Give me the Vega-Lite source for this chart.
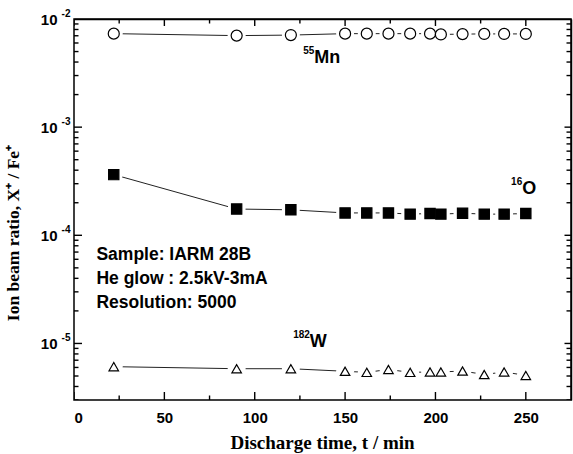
{
  "$schema": "https://vega.github.io/schema/vega-lite/v6.json",
  "width": 497,
  "height": 381,
  "autosize": "none",
  "padding": {"left": 74, "top": 19, "right": 2, "bottom": 54},
  "background": "white",
  "config": {
    "view": {"stroke": "black", "strokeWidth": 1.5},
    "axis": {
      "grid": false,
      "domain": false,
      "tickColor": "black",
      "tickOpacity": 0,
      "labelColor": "black",
      "titleColor": "black",
      "labelFont": "Liberation Sans",
      "labelFontWeight": "bold",
      "labelFontSize": 15,
      "titleFont": "Liberation Serif",
      "titleFontWeight": "bold",
      "titleFontSize": 19
    }
  },
  "datasets": {
    "pts": [
      {"species": "Mn", "t": 22, "ratio": 0.00732},
      {"species": "Mn", "t": 90, "ratio": 0.00702},
      {"species": "Mn", "t": 120, "ratio": 0.0071},
      {"species": "Mn", "t": 150, "ratio": 0.00732},
      {"species": "Mn", "t": 162, "ratio": 0.00732},
      {"species": "Mn", "t": 174, "ratio": 0.00732},
      {"species": "Mn", "t": 186, "ratio": 0.00732},
      {"species": "Mn", "t": 197, "ratio": 0.00732},
      {"species": "Mn", "t": 203, "ratio": 0.0072},
      {"species": "Mn", "t": 215, "ratio": 0.00725},
      {"species": "Mn", "t": 227, "ratio": 0.00728},
      {"species": "Mn", "t": 238, "ratio": 0.00728},
      {"species": "Mn", "t": 250, "ratio": 0.00728},
      {"species": "O", "t": 22, "ratio": 0.000364},
      {"species": "O", "t": 90, "ratio": 0.000175},
      {"species": "O", "t": 120, "ratio": 0.000172},
      {"species": "O", "t": 150, "ratio": 0.000161},
      {"species": "O", "t": 162, "ratio": 0.000161},
      {"species": "O", "t": 174, "ratio": 0.000161},
      {"species": "O", "t": 186, "ratio": 0.000157},
      {"species": "O", "t": 197, "ratio": 0.000159},
      {"species": "O", "t": 203, "ratio": 0.000157},
      {"species": "O", "t": 215, "ratio": 0.00016},
      {"species": "O", "t": 227, "ratio": 0.000157},
      {"species": "O", "t": 238, "ratio": 0.000157},
      {"species": "O", "t": 250, "ratio": 0.000159},
      {"species": "W", "t": 22, "ratio": 0.0000061},
      {"species": "W", "t": 90, "ratio": 0.00000584},
      {"species": "W", "t": 120, "ratio": 0.00000584},
      {"species": "W", "t": 150, "ratio": 0.00000553},
      {"species": "W", "t": 162, "ratio": 0.0000054},
      {"species": "W", "t": 174, "ratio": 0.00000575},
      {"species": "W", "t": 186, "ratio": 0.0000054},
      {"species": "W", "t": 197, "ratio": 0.00000545},
      {"species": "W", "t": 203, "ratio": 0.00000545},
      {"species": "W", "t": 215, "ratio": 0.00000556},
      {"species": "W", "t": 227, "ratio": 0.00000516},
      {"species": "W", "t": 238, "ratio": 0.00000545},
      {"species": "W", "t": 250, "ratio": 0.00000506}
    ],
    "ann": [
      {"x": 12.4, "y": 0.0000593, "text": "Sample: IARM 28B"},
      {"x": 12.4, "y": 0.0000356, "text": "He glow : 2.5kV-3mA"},
      {"x": 12.4, "y": 0.0000213, "text": "Resolution: 5000"}
    ],
    "labels": [
      {"x": 133, "y": 0.0039, "main": "Mn", "sup": "55"},
      {"x": 248, "y": 0.000241, "main": "O", "sup": "16"},
      {"x": 130.5, "y": 0.00000927, "main": "W", "sup": "182"}
    ],
    "ytitle": [
      {"x": -33.2, "y": 0.000105, "text": "Ion beam ratio, X⁺ / Fe⁺"}
    ],
    "xt": [
      {"v": 0, "major": 1}, {"v": 25, "major": 0}, {"v": 50, "major": 1}, {"v": 75, "major": 0},
      {"v": 100, "major": 1}, {"v": 125, "major": 0}, {"v": 150, "major": 1}, {"v": 175, "major": 0},
      {"v": 200, "major": 1}, {"v": 225, "major": 0}, {"v": 250, "major": 1}
    ],
    "yt": [
      {"v": 0.000003, "major": 0}, {"v": 0.000004, "major": 0}, {"v": 0.000005, "major": 0}, {"v": 0.000006, "major": 0}, {"v": 0.000007, "major": 0}, {"v": 0.000008, "major": 0}, {"v": 0.000009, "major": 0},
      {"v": 0.00001, "major": 1},
      {"v": 0.00002, "major": 0}, {"v": 0.00003, "major": 0}, {"v": 0.00004, "major": 0}, {"v": 0.00005, "major": 0}, {"v": 0.00006, "major": 0}, {"v": 0.00007, "major": 0}, {"v": 0.00008, "major": 0}, {"v": 0.00009, "major": 0},
      {"v": 0.0001, "major": 1},
      {"v": 0.0002, "major": 0}, {"v": 0.0003, "major": 0}, {"v": 0.0004, "major": 0}, {"v": 0.0005, "major": 0}, {"v": 0.0006, "major": 0}, {"v": 0.0007, "major": 0}, {"v": 0.0008, "major": 0}, {"v": 0.0009, "major": 0},
      {"v": 0.001, "major": 1},
      {"v": 0.002, "major": 0}, {"v": 0.003, "major": 0}, {"v": 0.004, "major": 0}, {"v": 0.005, "major": 0}, {"v": 0.006, "major": 0}, {"v": 0.007, "major": 0}, {"v": 0.008, "major": 0}, {"v": 0.009, "major": 0},
      {"v": 0.01, "major": 1}
    ]
  },
  "layer": [
    {
      "data": {"name": "pts"},
      "mark": {"type": "line", "color": "#222222", "strokeWidth": 1},
      "encoding": {
        "x": {
          "field": "t", "type": "quantitative",
          "scale": {"domain": [0, 275], "nice": false, "zero": false},
          "axis": {
            "orient": "bottom",
            "values": [0, 50, 100, 150, 200, 250],
            "tickSize": -8,
            "labelPadding": 18,
            "labelBaseline": "top",
            "title": "Discharge time, t / min",
            "titleX": 248,
            "titleY": 48,
            "titleAlign": "center",
            "titleBaseline": "alphabetic"
          }
        },
        "y": {
          "field": "ratio", "type": "quantitative",
          "scale": {"type": "log", "domain": [0.000003, 0.01], "nice": false},
          "axis": {
            "orient": "left",
            "values": [0.00001, 0.0001, 0.001, 0.01],
            "labelExpr": "'10'",
            "tickSize": -8,
            "labelPadding": 25,
            "title": null
          }
        },
        "detail": {"field": "species"}
      }
    },
    {
      "data": {"name": "pts"},
      "mark": {"type": "point", "filled": true, "color": "white", "opacity": 1, "size": 324, "shape": "circle"},
      "encoding": {
        "x": {
          "field": "t", "type": "quantitative",
          "axis": {"orient": "top", "labels": false, "ticks": false, "domain": true, "domainColor": "black", "domainWidth": 1.5, "title": null, "zindex": 1}
        },
        "y": {
          "field": "ratio", "type": "quantitative",
          "axis": {"orient": "right", "labels": false, "ticks": false, "domain": true, "domainColor": "black", "domainWidth": 1.5, "title": null, "zindex": 1}
        }
      }
    },
    {
      "data": {"name": "pts"},
      "mark": {"type": "point", "filled": true, "stroke": "black", "strokeWidth": 1.2, "opacity": 1},
      "encoding": {
        "x": {"field": "t", "type": "quantitative", "axis": null},
        "y": {
          "field": "ratio", "type": "quantitative",
          "axis": {
            "orient": "left",
            "values": [0.00001, 0.0001, 0.001, 0.01],
            "labelExpr": "'' + round(log(datum.value)/LN10)",
            "ticks": false,
            "domain": false,
            "title": null,
            "labelPadding": 4,
            "labelOffset": -6,
            "labelFontSize": 10
          }
        },
        "shape": {"field": "species", "type": "nominal", "scale": {"domain": ["Mn", "O", "W"], "range": ["circle", "square", "triangle-up"]}, "legend": null},
        "fill": {"field": "species", "type": "nominal", "scale": {"domain": ["Mn", "O", "W"], "range": ["white", "black", "white"]}, "legend": null},
        "size": {"field": "species", "type": "nominal", "scale": {"domain": ["Mn", "O", "W"], "range": [121, 90, 169]}, "legend": null}
      }
    },
    {
      "data": {"name": "xt"},
      "mark": {"type": "tick", "orient": "vertical", "clip": true, "color": "black", "thickness": 1.4, "opacity": 1},
      "encoding": {
        "x": {"field": "v", "type": "quantitative", "axis": null},
        "y": {"datum": 0.000003, "type": "quantitative", "axis": null},
        "size": {"condition": {"test": "datum.major == 1", "value": 16}, "value": 9}
      }
    },
    {
      "data": {"name": "xt"},
      "mark": {"type": "tick", "orient": "vertical", "clip": true, "color": "black", "thickness": 1.4, "opacity": 1},
      "encoding": {
        "x": {"field": "v", "type": "quantitative", "axis": null},
        "y": {"datum": 0.01, "type": "quantitative", "axis": null},
        "size": {"condition": {"test": "datum.major == 1", "value": 14}, "value": 9}
      }
    },
    {
      "data": {"name": "yt"},
      "mark": {"type": "tick", "orient": "horizontal", "clip": true, "color": "black", "thickness": 1.4, "opacity": 1},
      "encoding": {
        "y": {"field": "v", "type": "quantitative", "axis": null},
        "x": {"datum": 0, "type": "quantitative", "axis": null},
        "size": {"condition": {"test": "datum.major == 1", "value": 16}, "value": 9}
      }
    },
    {
      "data": {"name": "yt"},
      "mark": {"type": "tick", "orient": "horizontal", "clip": true, "color": "black", "thickness": 1.4, "opacity": 1},
      "encoding": {
        "y": {"field": "v", "type": "quantitative", "axis": null},
        "x": {"datum": 275, "type": "quantitative", "axis": null},
        "size": {"condition": {"test": "datum.major == 1", "value": 13}, "value": 9}
      }
    },
    {
      "data": {"name": "ann"},
      "mark": {"type": "text", "align": "left", "baseline": "alphabetic", "font": "Liberation Sans", "fontWeight": "bold", "fontSize": 17.5, "color": "black"},
      "encoding": {
        "x": {"field": "x", "type": "quantitative", "axis": null},
        "y": {"field": "y", "type": "quantitative", "axis": null},
        "text": {"field": "text"}
      }
    },
    {
      "data": {"name": "labels"},
      "mark": {"type": "text", "align": "left", "baseline": "alphabetic", "font": "Liberation Sans", "fontWeight": "bold", "fontSize": 18, "color": "black"},
      "encoding": {
        "x": {"field": "x", "type": "quantitative", "axis": null},
        "y": {"field": "y", "type": "quantitative", "axis": null},
        "text": {"field": "main"}
      }
    },
    {
      "data": {"name": "labels"},
      "mark": {"type": "text", "align": "right", "baseline": "alphabetic", "font": "Liberation Sans", "fontWeight": "bold", "fontSize": 10, "color": "black", "dy": -9},
      "encoding": {
        "x": {"field": "x", "type": "quantitative", "axis": null},
        "y": {"field": "y", "type": "quantitative", "axis": null},
        "text": {"field": "sup"}
      }
    },
    {
      "data": {"name": "ytitle"},
      "mark": {"type": "text", "align": "center", "baseline": "middle", "angle": 270, "font": "Liberation Serif", "fontWeight": "bold", "fontSize": 17.5, "color": "black"},
      "encoding": {
        "x": {"field": "x", "type": "quantitative", "axis": null},
        "y": {"field": "y", "type": "quantitative", "axis": null},
        "text": {"field": "text"}
      }
    }
  ],
  "resolve": {"axis": {"x": "independent", "y": "independent"}}
}
